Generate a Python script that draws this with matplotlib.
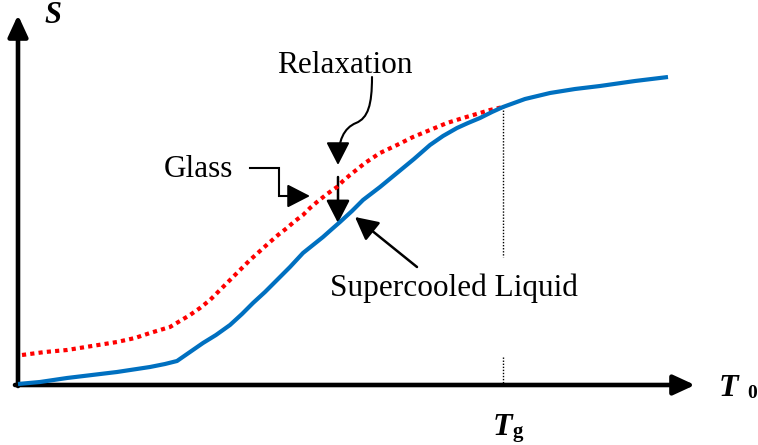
import matplotlib
matplotlib.use("Agg")
import matplotlib.pyplot as plt
from matplotlib.patches import FancyArrowPatch
from matplotlib.path import Path

# Supercooled liquid (blue) curve: temperature T and entropy S (arbitrary units)
liquid_T = [0, 22, 49, 74, 99, 132, 147, 159, 172, 185, 198, 212, 224, 235, 247, 259,
            272, 285, 295, 305, 314, 322, 334, 345, 362, 379, 396, 412, 425, 439, 450,
            462, 474, 485, 507, 532, 557, 582, 617, 650]
liquid_S = [1, 3, 7, 10, 13, 18, 21, 24, 33, 42, 50, 60, 71, 82, 93, 105,
            118, 132, 140, 148, 156, 163, 174, 185, 198, 212, 226, 240, 249, 257, 262,
            267, 273, 278, 286, 292, 296, 299, 304, 308]

# Glass (red dotted) curve
glass_T = [4, 27, 49, 74, 99, 117, 132, 142, 152, 162, 172, 182, 192, 202, 212, 222,
           232, 242, 252, 260, 269, 277, 285, 292, 299, 309, 319, 325, 332, 347, 362,
           379, 395, 412, 429, 445, 462, 472, 485]
glass_S = [30, 33, 35, 39, 43, 47, 52, 55, 58, 64, 70, 77, 85, 95, 105, 115,
           125, 134, 143, 150, 157, 164, 170, 177, 183, 191, 198, 204, 210, 222, 232,
           240, 248, 255, 262, 267, 272, 275, 278]

Tg = 485
labels = {"relax": "Relaxation", "glass": "Glass", "liquid": "Supercooled Liquid"}

serif = ["Liberation Serif", "DejaVu Serif"]

fig = plt.figure(figsize=(7.58, 4.45), dpi=100)
ax = fig.add_axes([0, 0, 1, 1])
ax.set_xlim(-18, 740)
ax.set_ylim(-60, 385)
ax.axis("off")

# curves
ax.plot(liquid_T, liquid_S, color="#0070C0", lw=3.0, solid_capstyle="butt",
        solid_joinstyle="round", zorder=3)
ax.plot(glass_T, glass_S, color="#FF0000", lw=3.0, linestyle=(0, (1, 1)),
        dash_capstyle="butt", zorder=2)

# Tg dotted guide lines
ax.plot([Tg, Tg], [278, 128], color="black", lw=1.0, linestyle=(0, (1, 1.2)))
ax.plot([Tg, Tg], [28, 0], color="black", lw=1.0, linestyle=(0, (1, 1.2)))

# axes with arrow heads
axis_kw = dict(arrowstyle="-|>,head_length=0.65,head_width=0.3", mutation_scale=20,
               color="black", lw=3.3, shrinkA=0, shrinkB=0)
ax.add_patch(FancyArrowPatch((0, -1), (0, 370), **axis_kw))
ax.add_patch(FancyArrowPatch((-3, 0), (677, 0), **axis_kw))

# axis labels
ax.text(35, 362, "S", fontsize=22, fontweight="bold", fontstyle="italic",
        family=serif, ha="center", va="baseline")
ax.text(710, -11, "T", fontsize=23, fontweight="bold", fontstyle="italic",
        family=serif, ha="center", va="baseline")
ax.text(734, -13, "0", fontsize=14, fontweight="bold",
        family=serif, ha="center", va="baseline")
ax.text(484, -50, "T", fontsize=23, fontweight="bold", fontstyle="italic",
        family=serif, ha="center", va="baseline")
ax.text(500, -52, "g", fontsize=15, fontweight="bold",
        family=serif, ha="center", va="baseline")

# annotation texts
ax.text(327, 312, labels["relax"], fontsize=22.5, family=serif, ha="center", va="baseline")
ax.text(180, 208, labels["glass"], fontsize=22.5, family=serif, ha="center", va="baseline")
ax.text(436, 89, labels["liquid"], fontsize=22.5, family=serif, ha="center", va="baseline")

arr_kw = dict(arrowstyle="-|>,head_length=0.7,head_width=0.36", mutation_scale=20,
              color="black", shrinkA=0, shrinkB=0)

# Glass elbow arrow
ax.plot([232, 261, 261, 275], [217, 217, 189, 189], color="black", lw=1.5,
        solid_joinstyle="miter")
ax.add_patch(FancyArrowPatch((270, 189), (292, 189), lw=1.5, **arr_kw))

# Relaxation curved arrow
verts = [(354, 308), (354, 280), (350, 267), (338, 262),
         (326, 257), (320, 245), (320, 220)]
codes = [Path.MOVETO, Path.CURVE4, Path.CURVE4, Path.CURVE4,
         Path.CURVE4, Path.CURVE4, Path.CURVE4]
ax.add_patch(FancyArrowPatch(path=Path(verts, codes), lw=1.5, **arr_kw))

# vertical relaxation arrow
ax.add_patch(FancyArrowPatch((320, 208), (320, 162), lw=1.8, **arr_kw))

# supercooled liquid arrow
ax.add_patch(FancyArrowPatch((399, 118), (337, 168), lw=1.8, **arr_kw))

fig.savefig("out.png", dpi=100)
